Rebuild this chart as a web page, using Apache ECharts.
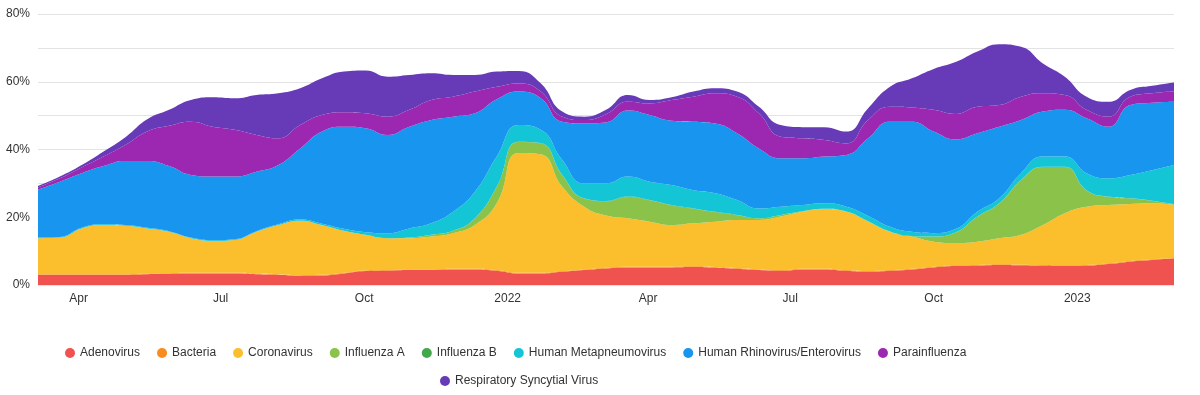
<!DOCTYPE html>
<html>
<head>
<meta charset="utf-8">
<script src="https://cdn.jsdelivr.net/npm/echarts@6/dist/echarts.min.js"></script>
<style>
html,body{margin:0;padding:0;background:#fff;}
#chart{width:1200px;height:395px;}
</style>
</head>
<body>
<div id="chart"></div>
<script>
var dates = ['2021-03-06','2021-03-20','2021-04-03','2021-04-17','2021-05-01','2021-05-15','2021-05-29','2021-06-12','2021-06-26','2021-07-10','2021-07-24','2021-08-07','2021-08-21','2021-09-04','2021-09-18','2021-10-02','2021-10-16','2021-10-30','2021-11-13','2021-11-27','2021-12-11','2021-12-25','2022-01-08','2022-01-22','2022-02-05','2022-02-19','2022-03-05','2022-03-19','2022-04-02','2022-04-16','2022-04-30','2022-05-14','2022-05-28','2022-06-11','2022-06-25','2022-07-09','2022-07-23','2022-08-06','2022-08-20','2022-09-03','2022-09-17','2022-10-01','2022-10-15','2022-10-29','2022-11-12','2022-11-26','2022-12-10','2022-12-24','2023-01-07','2023-01-21','2023-02-04','2023-02-18','2023-03-04'];

var adenovirus = [3.0,3.0,3.0,3.0,3.0,3.2,3.3,3.4,3.4,3.4,3.2,3.0,2.7,2.8,3.4,4.1,4.2,4.4,4.4,4.6,4.6,4.2,3.4,3.4,3.9,4.4,4.9,5.2,5.2,5.2,5.3,5.1,4.8,4.4,4.2,4.6,4.6,4.2,3.9,4.2,4.6,5.2,5.6,5.7,5.9,5.8,5.7,5.6,5.7,6.2,6.9,7.4,7.8];
var bacteria = [0.2,0.2,0.2,0.2,0.2,0.2,0.2,0.2,0.2,0.2,0.2,0.2,0.2,0.2,0.2,0.2,0.2,0.2,0.2,0.2,0.2,0.2,0.2,0.2,0.2,0.2,0.2,0.2,0.2,0.2,0.2,0.2,0.2,0.2,0.2,0.2,0.2,0.2,0.2,0.2,0.2,0.2,0.2,0.2,0.2,0.2,0.2,0.2,0.2,0.2,0.2,0.2,0.2];
var coronavirus = [10.6,10.8,13.5,14.5,14.3,13.3,12.2,10.2,9.4,9.7,12.3,14.5,16.1,14.7,12.4,10.5,9.4,9.2,9.7,10.5,12.9,19.7,35.4,35.0,24.9,18.5,15.4,14.3,13.3,12.3,12.7,13.4,14.2,14.6,15.8,16.8,17.6,17.2,14.6,11.3,9.5,7.4,6.6,6.9,7.7,8.8,11.8,15.4,17.2,17.2,16.8,16.5,15.6];
var influenzaA = [0,0,0,0,0,0,0,0,0,0,0,0,0,0,0,0,0,0.2,0.5,0.7,2.0,4.9,3.2,3.2,3.4,2.4,4.2,6.3,6.3,5.8,4.3,2.8,1.4,0.5,0.5,0.2,0.1,0.1,0.1,0.1,0.2,1.5,3.1,7.3,10.2,16.1,17.1,13.6,4.8,2.4,1.6,0.7,0.2];
var influenzaB = [0,0,0,0,0,0,0,0,0,0,0,0,0,0,0,0,0,0,0,0,0,0,0.1,0.1,0.1,0.1,0.1,0.1,0.1,0.1,0.1,0.1,0.1,0,0,0,0,0,0,0,0,0,0,0.1,0.1,0.1,0.1,0.1,0.1,0.1,0.1,0.1,0.1];
var metapneumovirus = [0.2,0.2,0.2,0.2,0.2,0.2,0.2,0.2,0.2,0.2,0.2,0.2,0.3,0.4,0.6,0.8,1.5,2.7,3.4,5.6,7.8,8.9,4.9,4.0,4.4,4.4,5.2,5.9,5.4,5.9,5.4,5.5,4.4,2.9,2.4,1.8,1.6,1.4,1.6,1.4,1.2,1.0,1.0,1.4,1.5,2.0,3.0,3.0,5.0,5.4,6.9,9.0,11.5];
var rhinovirus = [14.2,16.3,16.1,17.2,18.9,19.7,19.2,18.5,18.8,18.5,17.5,17.5,21.0,27.2,30.1,30.7,29.0,30.0,30.5,28.1,23.2,16.9,9.9,9.3,11.3,17.7,18.0,19.5,19.7,19.0,20.2,20.6,19.7,17.7,14.3,13.8,13.8,15.3,22.9,31.0,32.5,30.0,26.5,23.2,21.1,15.7,13.3,13.8,16.2,15.2,20.6,19.9,18.7];
var parainfluenza = [0.6,1.0,1.7,2.8,4.7,8.7,11.9,15.7,14.7,13.8,10.9,7.9,6.9,4.9,4.3,4.4,5.4,5.0,5.9,5.9,6.4,3.7,2.4,2.0,1.5,1.0,2.4,2.6,3.4,6.1,7.4,8.9,10.8,10.4,6.4,5.9,4.9,3.4,5.4,4.4,4.2,6.4,7.5,7.8,6.4,6.9,5.4,4.4,2.5,3.0,2.5,2.8,3.0];
var rsv = [0.4,0.5,0.7,1.5,2.3,3.6,4.7,6.4,8.7,9.3,11.8,13.3,10.9,10.8,12.0,12.6,11.8,10.3,7.9,6.4,4.9,4.5,3.7,2.4,1.5,1.0,1.3,2.0,1.0,0.8,1.5,1.5,1.5,1.9,3.4,3.3,3.8,3.5,3.5,5.9,8.6,12.1,15.3,16.3,18.0,14.7,8.8,5.4,3.9,4.4,2.0,2.2,2.7];

var seriesNames = ['Adenovirus','Bacteria','Coronavirus','Influenza A','Influenza B','Human Metapneumovirus','Human Rhinovirus/Enterovirus','Parainfluenza','Respiratory Syncytial Virus'];
var seriesValues = [adenovirus, bacteria, coronavirus, influenzaA, influenzaB, metapneumovirus, rhinovirus, parainfluenza, rsv];
var seriesColors = ['#F0524F','#FA8C1E','#FBBE2C','#8BC34A','#43A84A','#14C5D6','#1795EF','#9C27B0','#673AB7'];

var tickDates = ['2021-04-01','2021-07-01','2021-10-01','2022-01-01','2022-04-01','2022-07-01','2022-10-01','2023-01-01'];
var tickLabels = ['Apr','Jul','Oct','2022','Apr','Jul','Oct','2023'];
var yTickLabels = {0:'0%',20:'20%',40:'40%',60:'60%',80:'80%'};

function ts(s){var p=s.split('-');return Date.UTC(+p[0],+p[1]-1,+p[2]);}
var tickTs = tickDates.map(ts);
var xMin = ts(dates[0]), xMax = ts(dates[dates.length-1]);

var series = seriesNames.map(function(name, k){
  return {
    name: name,
    type: 'line',
    stack: 'total',
    xAxisIndex: 0,
    smooth: true,
    symbol: 'none',
    showSymbol: false,
    lineStyle: {width: 0},
    itemStyle: {color: seriesColors[k]},
    areaStyle: {color: seriesColors[k], opacity: 1},
    emphasis: {disabled: true},
    data: dates.map(function(d, i){ return [ts(d), seriesValues[k][i]]; })
  };
});

var chart = echarts.init(document.getElementById('chart'), null, {renderer:'canvas'});
chart.setOption({
  animation: false,
  backgroundColor: '#fff',
  textStyle: {fontFamily: '"Liberation Sans", Arial, Helvetica, sans-serif'},
  grid: {left: 38, right: 26, top: 14, bottom: 110, containLabel: false},
  legend: [{
    data: seriesNames.slice(0, 8),
    left: 65, top: 347, padding: 0,
    icon: 'circle', itemWidth: 10, itemHeight: 10, itemGap: 17,
    textStyle: {fontSize: 12, color: '#333'}
  },{
    data: seriesNames.slice(8),
    left: 440, top: 375, padding: 0,
    icon: 'circle', itemWidth: 10, itemHeight: 10, itemGap: 17,
    textStyle: {fontSize: 12, color: '#333'}
  }],
  xAxis: [{
    type: 'time',
    min: xMin, max: xMax,
    axisLine: {show: false},
    axisTick: {show: false},
    splitLine: {show: false},
    axisLabel: {show: false}
  },{
    type: 'value',
    position: 'bottom',
    min: xMin, max: xMax,
    axisLine: {show: false},
    axisTick: {show: false},
    splitLine: {show: false},
    axisLabel: {
      customValues: tickTs,
      color: '#333', fontSize: 12, margin: 8,
      formatter: function(v){ var i = tickTs.indexOf(v); return i >= 0 ? tickLabels[i] : ''; }
    }
  }],
  yAxis: {
    type: 'value',
    min: 0, max: 80, interval: 10,
    axisLine: {show: false},
    axisTick: {show: false},
    splitLine: {lineStyle: {color: '#e3e3e3', width: 1}},
    axisLabel: {
      color: '#333', fontSize: 12, margin: 8,
      formatter: function(v){ return yTickLabels[v] !== undefined ? yTickLabels[v] : ''; }
    }
  },
  series: series
});
</script>
</body>
</html>
